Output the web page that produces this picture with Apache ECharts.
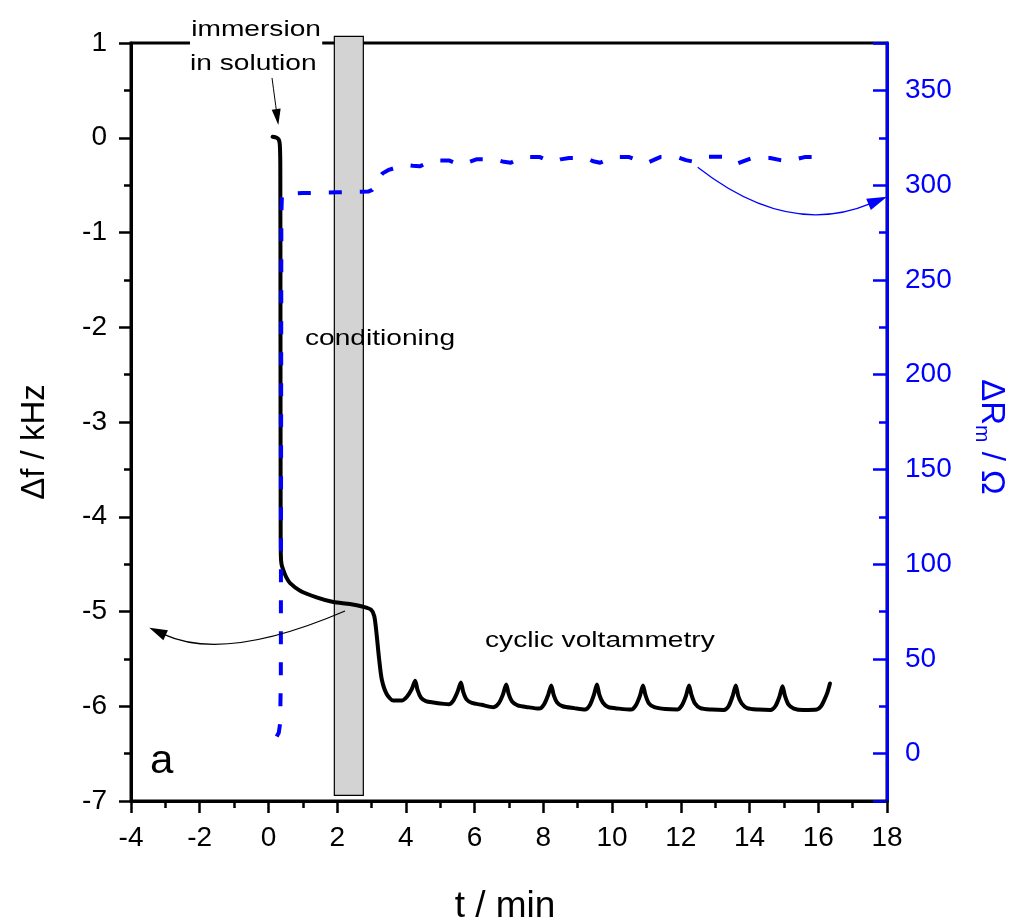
<!DOCTYPE html>
<html>
<head>
<meta charset="utf-8">
<script src="https://cdn.jsdelivr.net/npm/echarts@6/dist/echarts.min.js"></script>
<style>
  html, body { margin: 0; padding: 0; background: #fff; }
  #chart { width: 1025px; height: 924px; }
</style>
</head>
<body>
<div id="chart"></div>
<script>
const FONT = '"Liberation Sans", Arial, Helvetica, sans-serif';

// Frequency shift Δf (kHz) versus time t (min)
const freqShift = [
  [0.12, 0.01], [0.24, 0.00], [0.30, -0.02], [0.33, -0.07], [0.345, -0.30],
  [0.35, -2.00], [0.355, -4.00], [0.36, -4.40], [0.38, -4.50], [0.43, -4.56],
  [0.52, -4.64], [0.63, -4.70], [0.92, -4.78], [1.40, -4.85], [1.89, -4.90],
  [2.37, -4.92], [2.76, -4.95], [2.98, -4.98], [3.08, -5.05], [3.15, -5.25],
  [3.22, -5.50], [3.30, -5.72], [3.44, -5.87], [3.63, -5.94], [3.88, -5.94],
  [4.03, -5.90], [4.17, -5.82], [4.27, -5.73], [4.34, -5.83], [4.44, -5.91],
  [4.58, -5.945], [4.80, -5.96], [5.10, -5.975], [5.25, -5.98], [5.38, -5.94],
  [5.50, -5.85], [5.60, -5.75], [5.67, -5.85], [5.77, -5.93], [5.92, -5.965],
  [6.20, -5.985], [6.55, -6.01], [6.70, -5.97], [6.82, -5.88], [6.92, -5.77],
  [6.99, -5.87], [7.09, -5.95], [7.25, -5.99], [7.55, -6.01], [7.88, -6.025],
  [8.02, -5.98], [8.14, -5.88], [8.23, -5.78], [8.30, -5.88], [8.40, -5.96],
  [8.56, -6.00], [8.90, -6.02], [9.21, -6.035], [9.35, -5.99], [9.47, -5.88],
  [9.56, -5.77], [9.63, -5.88], [9.73, -5.96], [9.89, -6.01], [10.20, -6.025],
  [10.55, -6.035], [10.69, -5.99], [10.81, -5.89], [10.90, -5.78], [10.97, -5.88],
  [11.07, -5.97], [11.23, -6.01], [11.55, -6.03], [11.89, -6.035], [12.03, -5.99],
  [12.15, -5.89], [12.24, -5.78], [12.31, -5.88], [12.41, -5.97], [12.57, -6.02],
  [12.90, -6.035], [13.25, -6.04], [13.39, -6.00], [13.51, -5.89], [13.60, -5.78],
  [13.67, -5.89], [13.77, -5.97], [13.93, -6.02], [14.26, -6.035], [14.61, -6.04],
  [14.75, -6.00], [14.87, -5.90], [14.96, -5.79], [15.03, -5.89], [15.13, -5.98],
  [15.29, -6.025], [15.57, -6.04], [15.96, -6.035], [16.08, -6.00], [16.18, -5.93],
  [16.27, -5.85], [16.34, -5.76]
];

// Motional resistance change ΔRm (Ω) versus time t (min)
const resistance = [
  [0.24, 9], [0.30, 11], [0.34, 16], [0.36, 40], [0.37, 200], [0.375, 285],
  [0.39, 293], [0.43, 295.3], [1.00, 295.8], [2.00, 296.2], [2.90, 296.6],
  [3.02, 297.5], [3.10, 299.5], [3.20, 303.5], [3.32, 306.2], [3.48, 307.9],
  [3.70, 309.2], [4.00, 310.6], [4.20, 310.2], [4.40, 309.9], [4.60, 311.6],
  [4.80, 313], [5.25, 313], [5.45, 311.6], [5.60, 310.8], [5.80, 312.0],
  [6.05, 313.6], [6.60, 313.6], [6.85, 312.3], [7.05, 311.8], [7.25, 313.5],
  [7.45, 314.8], [7.90, 314.8], [8.12, 313.0], [8.30, 312.4], [8.50, 313.6],
  [8.75, 314.3], [9.25, 314.3], [9.45, 312.6], [9.65, 311.8], [9.85, 313.4],
  [10.05, 314.8], [10.50, 314.8], [10.80, 312.6], [11.00, 311.6], [11.20, 313.2],
  [11.40, 314.8], [11.90, 314.8], [12.15, 313.2], [12.35, 312.4], [12.58, 313.9],
  [12.80, 315], [13.25, 315], [13.48, 312.6], [13.65, 311.4], [13.85, 312.8],
  [14.05, 314.2], [14.60, 314.3], [14.90, 313.2], [15.15, 312.7], [15.38, 313.8],
  [15.60, 314.8], [16.00, 314.8]
];

// Conditioning interval on the time axis (min) and its vertical span (kHz)
const conditioningSpan = [1.917, 2.761];
const conditioningLevels = [1.07, -6.94];

// Axis ranges and tick steps
const timeAxis = { min: -4, max: 18, step: 2 };
const freqAxis = { min: -7, max: 1, step: 1 };
const resAxis = { min: -25, max: 375, labelStep: 50, minorStep: 25 };

const chart = echarts.init(document.getElementById('chart'), null, { renderer: 'canvas' });

const BLUE = '#0000ff';

chart.setOption({
  animation: false,
  backgroundColor: '#fff',
  grid: {
    left: 131, right: 138, top: 43, bottom: 123,
    outerBoundsMode: 'none', containLabel: false,
    show: true, borderColor: '#000', borderWidth: 3, backgroundColor: 'transparent'
  },
  xAxis: {
    type: 'value', min: timeAxis.min, max: timeAxis.max, interval: timeAxis.step,
    position: 'bottom',
    axisLine: { show: true, onZero: false, lineStyle: { color: '#000', width: 3 } },
    axisTick: { show: true, inside: false, length: 12, lineStyle: { color: '#000', width: 2.5 } },
    minorTick: { show: true, splitNumber: 2, length: 7, lineStyle: { color: '#000', width: 2.5 } },
    splitLine: { show: false },
    axisLabel: { color: '#000', fontSize: 28, fontFamily: FONT, margin: 23 },
    name: 't / min', nameLocation: 'middle', nameGap: 87,
    nameTextStyle: { color: '#000', fontSize: 37, fontFamily: FONT, padding: [0, 8, 0, 0] }
  },
  yAxis: [
    {
      type: 'value', min: freqAxis.min, max: freqAxis.max, interval: freqAxis.step,
      position: 'left',
      axisLine: { show: true, onZero: false, lineStyle: { color: '#000', width: 3 } },
      axisTick: { show: true, inside: false, length: 12, lineStyle: { color: '#000', width: 2.5 } },
      minorTick: { show: true, splitNumber: 2, length: 7, lineStyle: { color: '#000', width: 2.5 } },
      splitLine: { show: false },
      axisLabel: { color: '#000', fontSize: 28, fontFamily: FONT, margin: 24 },
      name: 'Δf / kHz', nameLocation: 'middle', nameGap: 80,
      nameTextStyle: { color: '#000', fontSize: 33, fontFamily: FONT, padding: [0, 40, 0, 0] }
    },
    {
      type: 'value', min: resAxis.min, max: resAxis.max, splitNumber: 8,
      position: 'right',
      axisLine: { show: true, onZero: false, lineStyle: { color: BLUE, width: 3 } },
      axisTick: { show: true, inside: true, length: 14, lineStyle: { color: BLUE, width: 2.5 } },
      minorTick: { show: false },
      splitLine: { show: false },
      axisLabel: {
        color: BLUE, fontSize: 28, fontFamily: FONT, margin: 18,
        formatter: v => (v % resAxis.labelStep === 0 ? String(v) : '')
      },
      name: '{a|ΔR}{s|m}{a| / Ω}', nameLocation: 'middle', nameGap: 84, nameRotate: -90,
      nameTextStyle: {
        color: BLUE, fontSize: 33, fontFamily: FONT, padding: [0, 0, 0, 30],
        rich: {
          a: { color: BLUE, fontSize: 33, fontFamily: FONT, lineHeight: 40 },
          s: { color: BLUE, fontSize: 21, fontFamily: FONT, lineHeight: 20, verticalAlign: 'bottom' }
        }
      }
    },
    {
      // short ticks every 25 Ω on the right-hand axis
      type: 'value', min: resAxis.min, max: resAxis.max, interval: resAxis.minorStep,
      position: 'right',
      axisLine: { show: false, onZero: false },
      axisTick: { show: true, inside: true, length: 8, lineStyle: { color: BLUE, width: 2.5 } },
      axisLabel: { show: false },
      splitLine: { show: false }
    }
  ],
  series: [
    {
      type: 'custom', name: 'conditioning', xAxisIndex: 0, yAxisIndex: 0,
      clip: false, silent: true, z: 1,
      data: [[conditioningSpan[0], conditioningSpan[1], conditioningLevels[0], conditioningLevels[1]]],
      renderItem: (params, api) => {
        const a = api.coord([api.value(0), api.value(2)]);
        const b = api.coord([api.value(1), api.value(3)]);
        return {
          type: 'rect',
          shape: { x: a[0], y: a[1], width: b[0] - a[0], height: b[1] - a[1] },
          style: { fill: '#d3d3d3', stroke: '#000', lineWidth: 1.2 }
        };
      }
    },
    {
      type: 'line', name: 'Δf', xAxisIndex: 0, yAxisIndex: 0, data: freqShift,
      symbol: 'none', smooth: 0.25, z: 3,
      lineStyle: { color: '#000', width: 4, cap: 'round', join: 'round' }
    },
    {
      type: 'line', name: 'ΔRm', xAxisIndex: 0, yAxisIndex: 1, data: resistance,
      symbol: 'none', smooth: false, z: 4,
      lineStyle: { color: BLUE, width: 4, type: [13, 18], join: 'round' }
    }
  ]
});

// Annotations, placed in data coordinates
const toPx = (p, yAxisIndex) => chart.convertToPixel({ xAxisIndex: 0, yAxisIndex: yAxisIndex }, p);

function label(text, at, opts) {
  const p = toPx(at, 0);
  return {
    type: 'text', x: p[0], y: p[1], scaleX: opts.scaleX || 1.25, z: 20,
    style: Object.assign({
      text: text, x: 0, y: 0, fill: '#000',
      fontSize: opts.size || 22.5, fontFamily: FONT,
      align: 'left', verticalAlign: 'middle', textAlign: 'left', textVerticalAlign: 'middle'
    }, opts.style || {})
  };
}

function arrow(from, ctrl, to, yAxisIndex, color, width, headLen, headHalf) {
  const a = toPx(from, yAxisIndex), c = toPx(ctrl, yAxisIndex), b = toPx(to, yAxisIndex);
  const dx = b[0] - c[0], dy = b[1] - c[1];
  const len = Math.hypot(dx, dy);
  const ux = dx / len, uy = dy / len;
  const bx = b[0] - ux * headLen, by = b[1] - uy * headLen;
  return [
    {
      type: 'bezierCurve', z: 20, silent: true,
      shape: { x1: a[0], y1: a[1], x2: bx + ux * 2, y2: by + uy * 2, cpx1: c[0], cpy1: c[1] },
      style: { stroke: color, lineWidth: width, fill: null }
    },
    {
      type: 'polygon', z: 21, silent: true,
      shape: { points: [[b[0], b[1]], [bx - uy * headHalf, by + ux * headHalf], [bx + uy * headHalf, by - ux * headHalf]] },
      style: { fill: color }
    }
  ];
}

const graphics = [
  label('immersion', [-2.283, 1.137], { style: { backgroundColor: '#fff', padding: [1, 1, 7, 1] } }),
  label('in solution', [-2.283, 0.784], {}),
  label('conditioning', [1.064, -2.119], {}),
  label('cyclic voltammetry', [6.303, -5.311], {}),
  label('a', [-3.447, -6.588], { size: 40, scaleX: 1.05 }),
  ...arrow([0.104, 0.631], [0.195, 0.383], [0.287, 0.135], 0, '#000', 1, 16, 4.5),
  ...arrow([2.228, -4.995], [-1.270, -5.539], [-3.467, -5.171], 0, '#000', 1.2, 18, 5.5),
  ...arrow([12.49, 309.4], [15.127, 272.1], [18.0, 293.9], 1, BLUE, 1.2, 20, 6)
];

chart.setOption({ graphic: graphics });
</script>
</body>
</html>
